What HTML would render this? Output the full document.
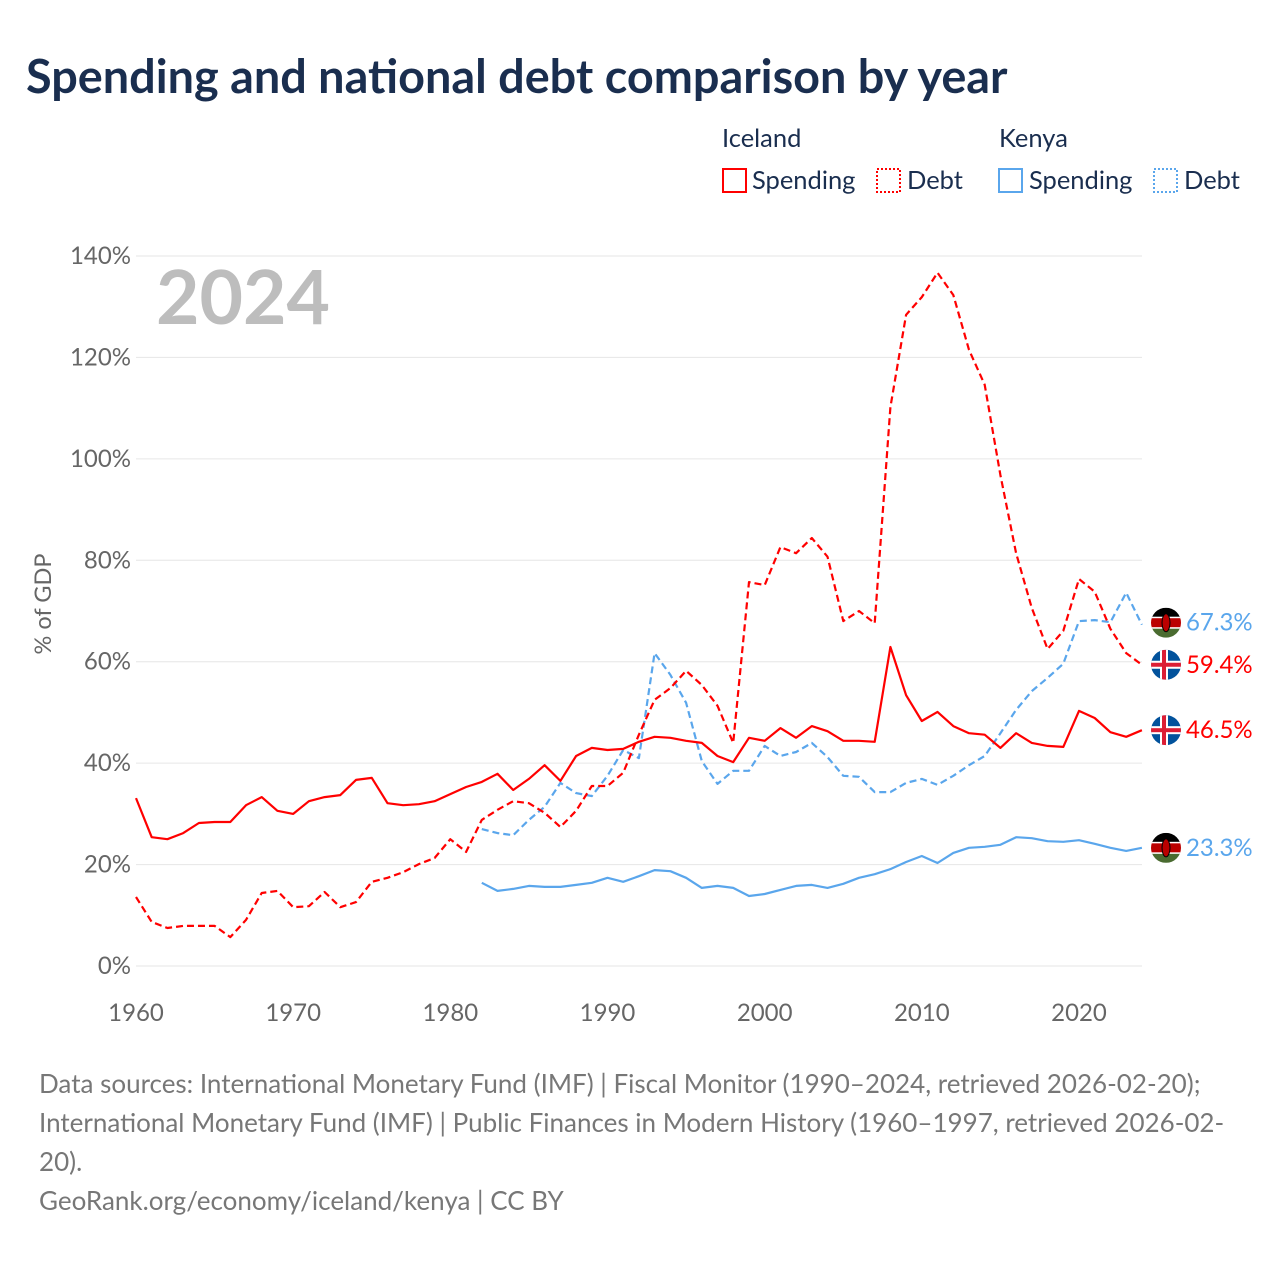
<!DOCTYPE html>
<html><head><meta charset="utf-8">
<style>
body{margin:0;background:#fff;font-family:"Liberation Sans",sans-serif;}
svg text{font-family:"Lato","Liberation Sans",sans-serif;}
</style></head>
<body>
<svg id="chart" width="1280" height="1280" viewBox="0 0 1280 1280" xmlns="http://www.w3.org/2000/svg">
<text x="26" y="93" font-size="46.8" font-weight="bold" fill="#1a2e4f">Spending and national debt comparison by year</text>
<g font-size="25.5" fill="#1a2e4f">
<text x="722" y="147" fill="#1a2e4f">Iceland</text>
<text x="999" y="147" fill="#1a2e4f">Kenya</text>
<g><rect x="723" y="169" width="23" height="23" fill="none" stroke="#ff0000" stroke-width="2"/><text x="752" y="189" fill="#1a2e4f">Spending</text></g>
<g><rect x="877" y="169" width="23" height="23" fill="none" stroke="#ff0000" stroke-width="2" stroke-dasharray="2,2"/><text x="907" y="189" fill="#1a2e4f">Debt</text></g>
<g><rect x="999" y="169" width="23" height="23" fill="none" stroke="#5aa6ec" stroke-width="2"/><text x="1029" y="189" fill="#1a2e4f">Spending</text></g>
<g><rect x="1154" y="169" width="23" height="23" fill="none" stroke="#5aa6ec" stroke-width="2" stroke-dasharray="2,2"/><text x="1184" y="189" fill="#1a2e4f">Debt</text></g>
</g>
<text x="156" y="324" font-size="75" font-weight="bold" fill="#bdbdbd">2024</text>
<text transform="translate(51,604) rotate(-90)" text-anchor="middle" font-size="23.5" fill="#666">% of GDP</text>
<g id="grid"></g><g id="series"></g><g id="ends"></g>
<g font-size="26" fill="#777">
<text x="39" y="1093">Data sources: International Monetary Fund (IMF) | Fiscal Monitor (1990–2024, retrieved 2026-02-20);</text>
<text x="39" y="1132">International Monetary Fund (IMF) | Public Finances in Modern History (1960–1997, retrieved 2026-02-</text>
<text x="39" y="1171">20).</text>
<text x="39" y="1210">GeoRank.org/economy/iceland/kenya | CC BY</text>
</g>
</svg>
<script>
const years0 = 1960, kenyaStart = 1982;
const icelandSpending = [33.1,25.4,25.0,26.2,28.2,28.4,28.4,31.7,33.3,30.6,30.0,32.5,33.3,33.7,36.7,37.1,32.1,31.7,31.9,32.5,33.9,35.3,36.3,37.9,34.7,36.9,39.6,36.5,41.4,43.0,42.6,42.8,44.2,45.2,45.0,44.4,44.0,41.4,40.2,45.0,44.4,46.9,45.0,47.3,46.3,44.4,44.4,44.2,62.9,53.4,48.3,50.1,47.3,45.9,45.6,43.0,45.9,44.0,43.4,43.2,50.3,48.9,46.1,45.2,46.5];
const icelandDebt = [13.6,8.7,7.5,7.9,7.9,7.9,5.7,9.1,14.4,14.8,11.6,11.8,14.6,11.6,12.6,16.6,17.4,18.5,20.1,21.3,25.0,22.5,28.8,30.8,32.5,32.1,30.2,27.4,30.6,35.5,35.5,38.1,45.6,52.5,54.8,58.2,55.4,51.3,44.0,75.7,75.1,82.6,81.4,84.4,80.7,68.0,70.0,67.6,110.2,128.4,131.9,136.7,132.3,121.5,114.6,96.8,81.4,70.6,62.5,66.1,76.3,73.8,66.5,61.7,59.4];
const kenyaSpending = [16.4,14.8,15.2,15.8,15.6,15.6,16.0,16.4,17.4,16.6,17.7,18.9,18.7,17.4,15.4,15.8,15.4,13.8,14.2,15.0,15.8,16.0,15.4,16.2,17.4,18.1,19.1,20.5,21.7,20.3,22.3,23.3,23.5,23.9,25.4,25.2,24.6,24.5,24.8,24.1,23.3,22.7,23.3];
const kenyaDebt = [27.0,26.2,25.8,28.8,31.4,36.1,34.1,33.5,37.5,42.6,41.0,61.7,57.4,51.9,40.4,35.9,38.5,38.5,43.4,41.4,42.2,44.0,41.2,37.5,37.3,34.3,34.3,36.1,36.9,35.7,37.5,39.6,41.4,45.9,50.5,54.2,56.8,59.6,68.0,68.2,67.8,73.6,67.3];
const yTicks = [0,20,40,60,80,100,120,140];
const xTicks = [1960,1970,1980,1990,2000,2010,2020];

const NS="http://www.w3.org/2000/svg";
const X = yr => 136 + (yr-1960)*(1079-136)/60;
const Y = v => 966 - v*(966-256)/140;
function mk(tag, attrs, parent){const e=document.createElementNS(NS,tag);for(const k in attrs)e.setAttribute(k,attrs[k]);parent.appendChild(e);return e;}
const grid=document.getElementById('grid'), ser=document.getElementById('series'), ends=document.getElementById('ends');
yTicks.forEach(t=>{
  const l=mk('line',{x1:136,x2:1142,y1:Y(t),y2:Y(t),stroke:'#e6e6e6','stroke-width':1},grid);
  
  
  const tx=mk('text',{x:131,y:Y(t)+8,'text-anchor':'end','font-size':24,fill:'#666'},grid);
  tx.textContent=t+'%';
  
  
});
xTicks.forEach(t=>{
  const tx=mk('text',{x:X(t),y:1021,'text-anchor':'middle','font-size':24,fill:'#666'},grid);
  tx.textContent=t;
  
  
});
function line(arr,start,color,dash,name){
  const d=arr.map((v,i)=>(i?'L':'M')+X(start+i).toFixed(1)+','+Y(v).toFixed(1)).join('');
  const p=mk('path',{d:d,fill:'none',stroke:color,'stroke-width':2.2,'stroke-linejoin':'round'},ser);
  if(dash)p.setAttribute('stroke-dasharray','7,4');
  
  
}
line(kenyaDebt,kenyaStart,'#5aa6ec',true,'kenya-debt-line');
line(kenyaSpending,kenyaStart,'#5aa6ec',false,'kenya-spending-line');
line(icelandDebt,years0,'#ff0000',true,'iceland-debt-line');
line(icelandSpending,years0,'#ff0000',false,'iceland-spending-line');
function flag(cy,country,val,color,name){
  const g=mk('g',{},ends);
  
  
  const cx=1166;
  const cid='c'+name;
  const cp=mk('clipPath',{id:cid},g);mk('circle',{cx:cx,cy:cy,r:15},cp);
  const f=mk('g',{'clip-path':'url(#'+cid+')'},g);
  if(country==='ke'){
    mk('rect',{x:cx-15,y:cy-15,width:30,height:10,fill:'#000'},f);
    mk('rect',{x:cx-15,y:cy-5,width:30,height:10,fill:'#b00'},f);
    mk('rect',{x:cx-15,y:cy+5,width:30,height:10,fill:'#4a6b30'},f);
    mk('rect',{x:cx-15,y:cy-6,width:30,height:1.5,fill:'#fff'},f);
    mk('rect',{x:cx-15,y:cy+4.5,width:30,height:1.5,fill:'#fff'},f);
    mk('ellipse',{cx:cx,cy:cy,rx:4,ry:9,fill:'#b00',stroke:'#000','stroke-width':1},f);
  } else {
    mk('rect',{x:cx-15,y:cy-15,width:30,height:30,fill:'#02529c'},f);
    mk('rect',{x:cx-15,y:cy-4,width:30,height:8,fill:'#fff'},f);
    mk('rect',{x:cx-6,y:cy-15,width:8,height:30,fill:'#fff'},f);
    mk('rect',{x:cx-15,y:cy-2,width:30,height:4,fill:'#dc1e35'},f);
    mk('rect',{x:cx-4,y:cy-15,width:4,height:30,fill:'#dc1e35'},f);
  }
  const t=mk('text',{x:1186,y:cy+8,'font-size':24,fill:color},g);
  t.textContent=val.toFixed(1)+'%';
}
flag(Y(kenyaDebt[kenyaDebt.length-1])-2,'ke',kenyaDebt[kenyaDebt.length-1],'#5aa6ec','end-label-kenya-debt');
flag(Y(icelandDebt[icelandDebt.length-1]),'is',icelandDebt[icelandDebt.length-1],'#ff0000','end-label-iceland-debt');
flag(Y(icelandSpending[icelandSpending.length-1]),'is',icelandSpending[icelandSpending.length-1],'#ff0000','end-label-iceland-spending');
flag(Y(kenyaSpending[kenyaSpending.length-1]),'ke',kenyaSpending[kenyaSpending.length-1],'#5aa6ec','end-label-kenya-spending');
</script>
</body></html>
